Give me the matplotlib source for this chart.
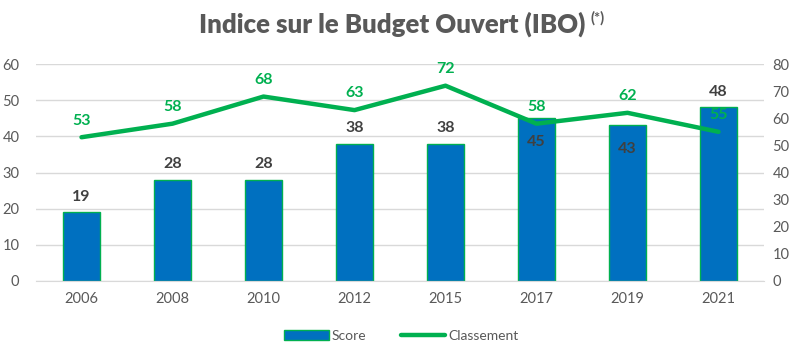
import matplotlib.pyplot as plt
import numpy as np

years = ["2006", "2008", "2010", "2012", "2015", "2017", "2019", "2021"]
score = [19, 28, 28, 38, 38, 45, 43, 48]
classement = [53, 58, 68, 63, 72, 58, 62, 55]
# Excel put these two score labels inside the bar
inside = ["2017", "2019"]

plt.rcParams['font.family'] = ['Lato', 'DejaVu Sans']

blue = "#0070C0"
green = "#00B050"
grey = "#595959"

fig = plt.figure(figsize=(8.03, 3.61), dpi=100)
ax = fig.add_axes([36 / 803, 1 - 281 / 361, 728 / 803, 217 / 361])
ax2 = ax.twinx()

x = np.arange(len(years))
ax.bar(x, score, width=0.4, color=blue, edgecolor=green, linewidth=1, zorder=2, label="Score")
ax2.plot(x, classement, color=green, lw=3.2, solid_capstyle="round", zorder=3, label="Classement")

ax.set_xlim(-0.5, len(years) - 0.5)
ax.set_ylim(0, 60)
ax2.set_ylim(0, 80)
ax.set_yticks(range(0, 61, 10))
ax2.set_yticks(range(0, 81, 10))
ax.set_xticks(x)
ax.set_xticklabels(years)

ax.grid(axis="y", color="#D9D9D9", lw=1, zorder=0)
ax.set_axisbelow(True)
for a in (ax, ax2):
    for s in a.spines.values():
        s.set_visible(False)
    a.tick_params(length=0, labelsize=10.5, labelcolor=grey)
ax.spines["bottom"].set_visible(True)
ax.spines["bottom"].set_color("#D9D9D9")
ax.tick_params(axis="y", pad=12)
ax2.tick_params(axis="y", pad=6)
ax.tick_params(axis="x", pad=8)
ax.set_zorder(ax2.get_zorder() - 1)
ax.patch.set_visible(False)

for i, (yr, v) in enumerate(zip(years, score)):
    if yr in inside:
        ax.annotate(str(v), (i, v), xytext=(0, -12), textcoords="offset points",
                    ha="center", va="top", fontsize=11.5, fontweight="bold", color="#404040", zorder=5)
    else:
        ax.annotate(str(v), (i, v), xytext=(0, 6), textcoords="offset points",
                    ha="center", va="bottom", fontsize=11.5, fontweight="bold", color="#404040")

for i, v in enumerate(classement):
    ax2.annotate(str(v), (i, v), xytext=(0, 7), textcoords="offset points",
                 ha="center", va="bottom", fontsize=11.5, fontweight="bold", color=green)

title = fig.text(0.488, 1 - 24 / 361, "Indice sur le Budget Ouvert (IBO)", ha="center", va="center",
                 fontsize=18.5, fontweight="heavy", color=grey)
fig.canvas.draw()
ax.annotate("(*)", xy=(1, 1), xycoords=title, xytext=(4, 0), textcoords="offset points",
            ha="left", va="top", fontsize=10.5, fontweight="bold", color=grey, annotation_clip=False)

h1, l1 = ax.get_legend_handles_labels()
h2, l2 = ax2.get_legend_handles_labels()
fig.legend(h1 + h2, l1 + l2, loc="center", bbox_to_anchor=(0.5, 1 - 336 / 361), ncol=2,
           frameon=False, fontsize=10, labelcolor=grey, handlelength=3.2, handletextpad=0.2,
           columnspacing=2.5)

fig.savefig("out.png", dpi=100)
